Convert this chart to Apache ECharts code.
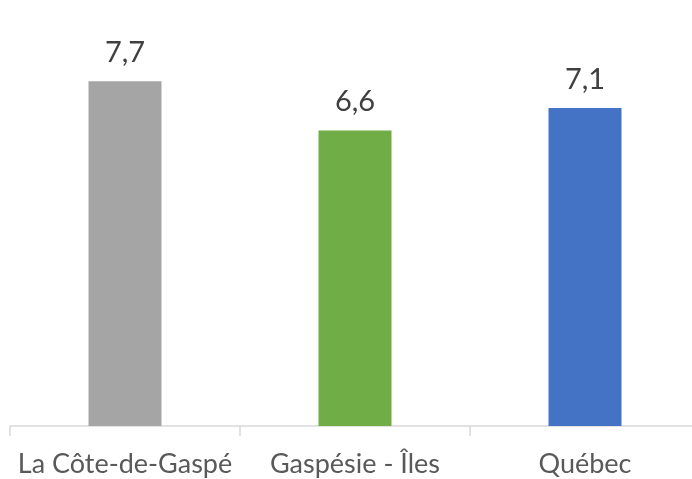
<!DOCTYPE html>
<html>
<head>
<meta charset="utf-8">
<script src="https://cdn.jsdelivr.net/npm/echarts@6/dist/echarts.min.js"></script>
<style>
  html, body { margin: 0; padding: 0; background: #fff; }
  #chart { width: 692px; height: 479px; }
</style>
</head>
<body>
<div id="chart"></div>
<script>
// 数据
const categories = ['La Côte-de-Gaspé', 'Gaspésie - Îles', 'Québec']
const values = [7.7, 6.6, 7.1]
const barColors = ['#a5a5a5', '#70ad47', '#4472c4']

const myChart = echarts.init(document.getElementById('chart'))

const option = {
  animation: false,
  textStyle: { fontFamily: 'Lato' },
  // 绘图区右侧略超出画布
  grid: { left: 10, right: -8, top: 23, bottom: 53, outerBoundsMode: 'none' },
  xAxis: {
    type: 'category',
    data: categories,
    axisLine: { lineStyle: { color: '#d9d9d9', width: 1.5 } },
    axisTick: { show: true, length: 10, lineStyle: { color: '#d9d9d9', width: 1.5 } },
    axisLabel: { interval: 0, color: '#595959', fontSize: 27, margin: 25, fontFamily: 'Lato' }
  },
  yAxis: {
    type: 'value',
    min: 0,
    max: 9,
    show: false,
    splitLine: { show: false }
  },
  series: [
    {
      type: 'bar',
      barWidth: 73,
      data: values.map((v, i) => ({ value: v, itemStyle: { color: barColors[i] } })),
      label: {
        show: true,
        position: 'top',
        distance: 14,
        color: '#404040',
        fontSize: 29,
        fontFamily: 'Lato',
        formatter: ({ value }) => String(value).replace('.', ',')
      }
    }
  ]
}

myChart.setOption(option)
</script>
</body>
</html>
